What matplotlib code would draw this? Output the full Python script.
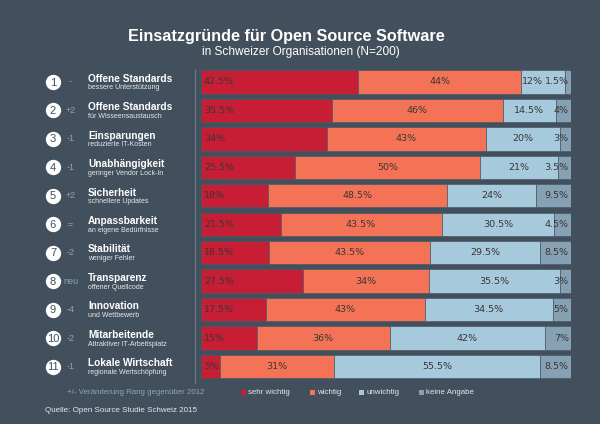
import matplotlib
matplotlib.use("Agg")
import matplotlib.pyplot as plt
from matplotlib.patches import Rectangle
from matplotlib.lines import Line2D
import matplotlib.transforms as mtransforms

# ---- data ----
ranks = ["1", "2", "3", "4", "5", "6", "7", "8", "9", "10", "11"]
rank_change = ["-", "+2", "-1", "-1", "+2", "=", "-2", "neu", "-4", "-2", "-1"]
titles = ["Offene Standards", "Offene Standards", "Einsparungen", "Unabhängigkeit",
          "Sicherheit", "Anpassbarkeit", "Stabilität", "Transparenz", "Innovation",
          "Mitarbeitende", "Lokale Wirtschaft"]
subtitles = ["bessere Unterstützung", "für Wisseensaustausch", "reduzierte IT-Kosten",
             "geringer Vendor Lock-In", "schnellere Updates", "an eigene Bedürfnisse",
             "weniger Fehler", "offener Quellcode", "und Wettbewerb",
             "Attraktiver IT-Arbeitsplatz", "regionale Wertschöpfung"]
sehr_wichtig = [42.5, 35.5, 34, 25.5, 18, 21.5, 18.5, 27.5, 17.5, 15, 5]
wichtig = [44, 46, 43, 50, 48.5, 43.5, 43.5, 34, 43, 36, 31]
unwichtig = [12, 14.5, 20, 21, 24, 30.5, 29.5, 35.5, 34.5, 42, 55.5]
keine_angabe = [1.5, 4, 3, 3.5, 9.5, 4.5, 8.5, 3, 5, 7, 8.5]
series_names = ["sehr wichtig", "wichtig", "unwichtig", "keine Angabe"]

BG = "#424f5c"
COLORS = ["#c71e35", "#f47356", "#a7c9dc", "#87a1b4"]
LABEL_C = "#3a3636"
CHANGE_C = "#8ea6ba"
W, H = 600, 424

def fmt(v):
    return (f"{v:g}" + "%")

plt.rcParams['font.family'] = ['Liberation Sans', 'DejaVu Sans']
fig = plt.figure(figsize=(6, 4.24), dpi=100, facecolor=BG)

# bar axes
x0, x1 = 201, 571
yc_first, yc_last = 82, 366.5
step = (yc_last - yc_first) / 10
top_px = yc_first - step / 2
bot_px = yc_last + step / 2
ax = fig.add_axes([x0 / W, 1 - bot_px / H, (x1 - x0) / W, (bot_px - top_px) / H])
ax.set_facecolor(BG)
ax.set_xlim(0, 100)
ax.set_ylim(len(ranks) - 0.5, -0.5)
ax.axis("off")

ys = list(range(len(ranks)))
series = [sehr_wichtig, wichtig, unwichtig, keine_angabe]
lefts = [0.0] * len(ranks)
for vals, col, name in zip(series, COLORS, series_names):
    ax.barh(ys, vals, left=lefts, height=0.82, color=col, edgecolor="#4d5966",
            linewidth=0.5, label=name)
    lefts = [l + v for l, v in zip(lefts, vals)]

fig.canvas.draw()
renderer = fig.canvas.get_renderer()
px_per_unit = (x1 - x0) / 100.0

def text_w_units(t):
    bb = t.get_window_extent(renderer=renderer)
    return bb.width / px_per_unit

lab_kw = dict(fontsize=6.8, color=LABEL_C, va="center", family=["DejaVu Sans"])
for i in ys:
    s, w, u, k = sehr_wichtig[i], wichtig[i], unwichtig[i], keine_angabe[i]
    ax.text(0.8, i, fmt(s), ha="left", **lab_kw)
    ax.text(s + w / 2, i, fmt(w), ha="center", **lab_kw)
    tk = ax.text(99.4, i, fmt(k), ha="right", **lab_kw)
    gray_left = 99.4 - text_w_units(tk)
    tu = ax.text(s + w + u / 2, i, fmt(u), ha="center", **lab_kw)
    half = text_w_units(tu) / 2
    cx = min(s + w + u / 2, gray_left - 0.6 - half)
    tu.set_x(cx)

# left-side labels
trans = mtransforms.blended_transform_factory(fig.transFigure, ax.transData)
ax.scatter([53 / W] * len(ys), ys, s=122, color="white", transform=trans,
           clip_on=False, zorder=5, linewidths=0)
for i in ys:
    ax.text(53 / W, i + 0.02, ranks[i], transform=trans, ha="center", va="center",
            fontsize=8, color=BG, zorder=6, clip_on=False)
    ax.text(70.5 / W, i, rank_change[i], transform=trans, ha="center", va="center",
            fontsize=6.5, color=CHANGE_C, clip_on=False)
    ax.text(88 / W, i - 3.2 / step, titles[i], transform=trans, ha="left",
            va="center", fontsize=7.3, fontweight="bold", color="white", clip_on=False)
    ax.text(88 / W, i + 6.0 / step, subtitles[i], transform=trans, ha="left",
            va="center", fontsize=5, color="#e6e9ec", clip_on=False)

# vertical divider
fig.add_artist(Line2D([195 / W, 195 / W], [1 - 70 / H, 1 - 383 / H],
                      transform=fig.transFigure, color="#6d7b88", linewidth=0.8))

# titles
fig.text(286 / W, 1 - 36 / H, "Einsatzgründe für Open Source Software",
         ha="center", va="center", fontsize=11.7, fontweight="bold", color="white")
fig.text(301 / W, 1 - 52 / H, "in Schweizer Organisationen (N=200)",
         ha="center", va="center", fontsize=8.6, color="white")

# footnotes
fig.text(67 / W, 1 - 392 / H, "+/- Veränderung Rang gegenüber 2012",
         ha="left", va="center", fontsize=5.7, color=CHANGE_C)
fig.text(45 / W, 1 - 411 / H, "Quelle: Open Source Studie Schweiz 2015",
         ha="left", va="center", fontsize=5.8, color="#e6e9ec")

# legend
leg_x = [241, 310, 359, 419]
for lx, col, name in zip(leg_x, COLORS, series_names):
    fig.add_artist(Rectangle((lx / W, 1 - 394.5 / H), 5 / W, 5 / H,
                             transform=fig.transFigure, color=col, linewidth=0))
    fig.text((lx + 7.5) / W, 1 - 392 / H, name, ha="left", va="center",
             fontsize=5.7, color="#e6e9ec")

fig.savefig("out.png", dpi=100, facecolor=BG)
